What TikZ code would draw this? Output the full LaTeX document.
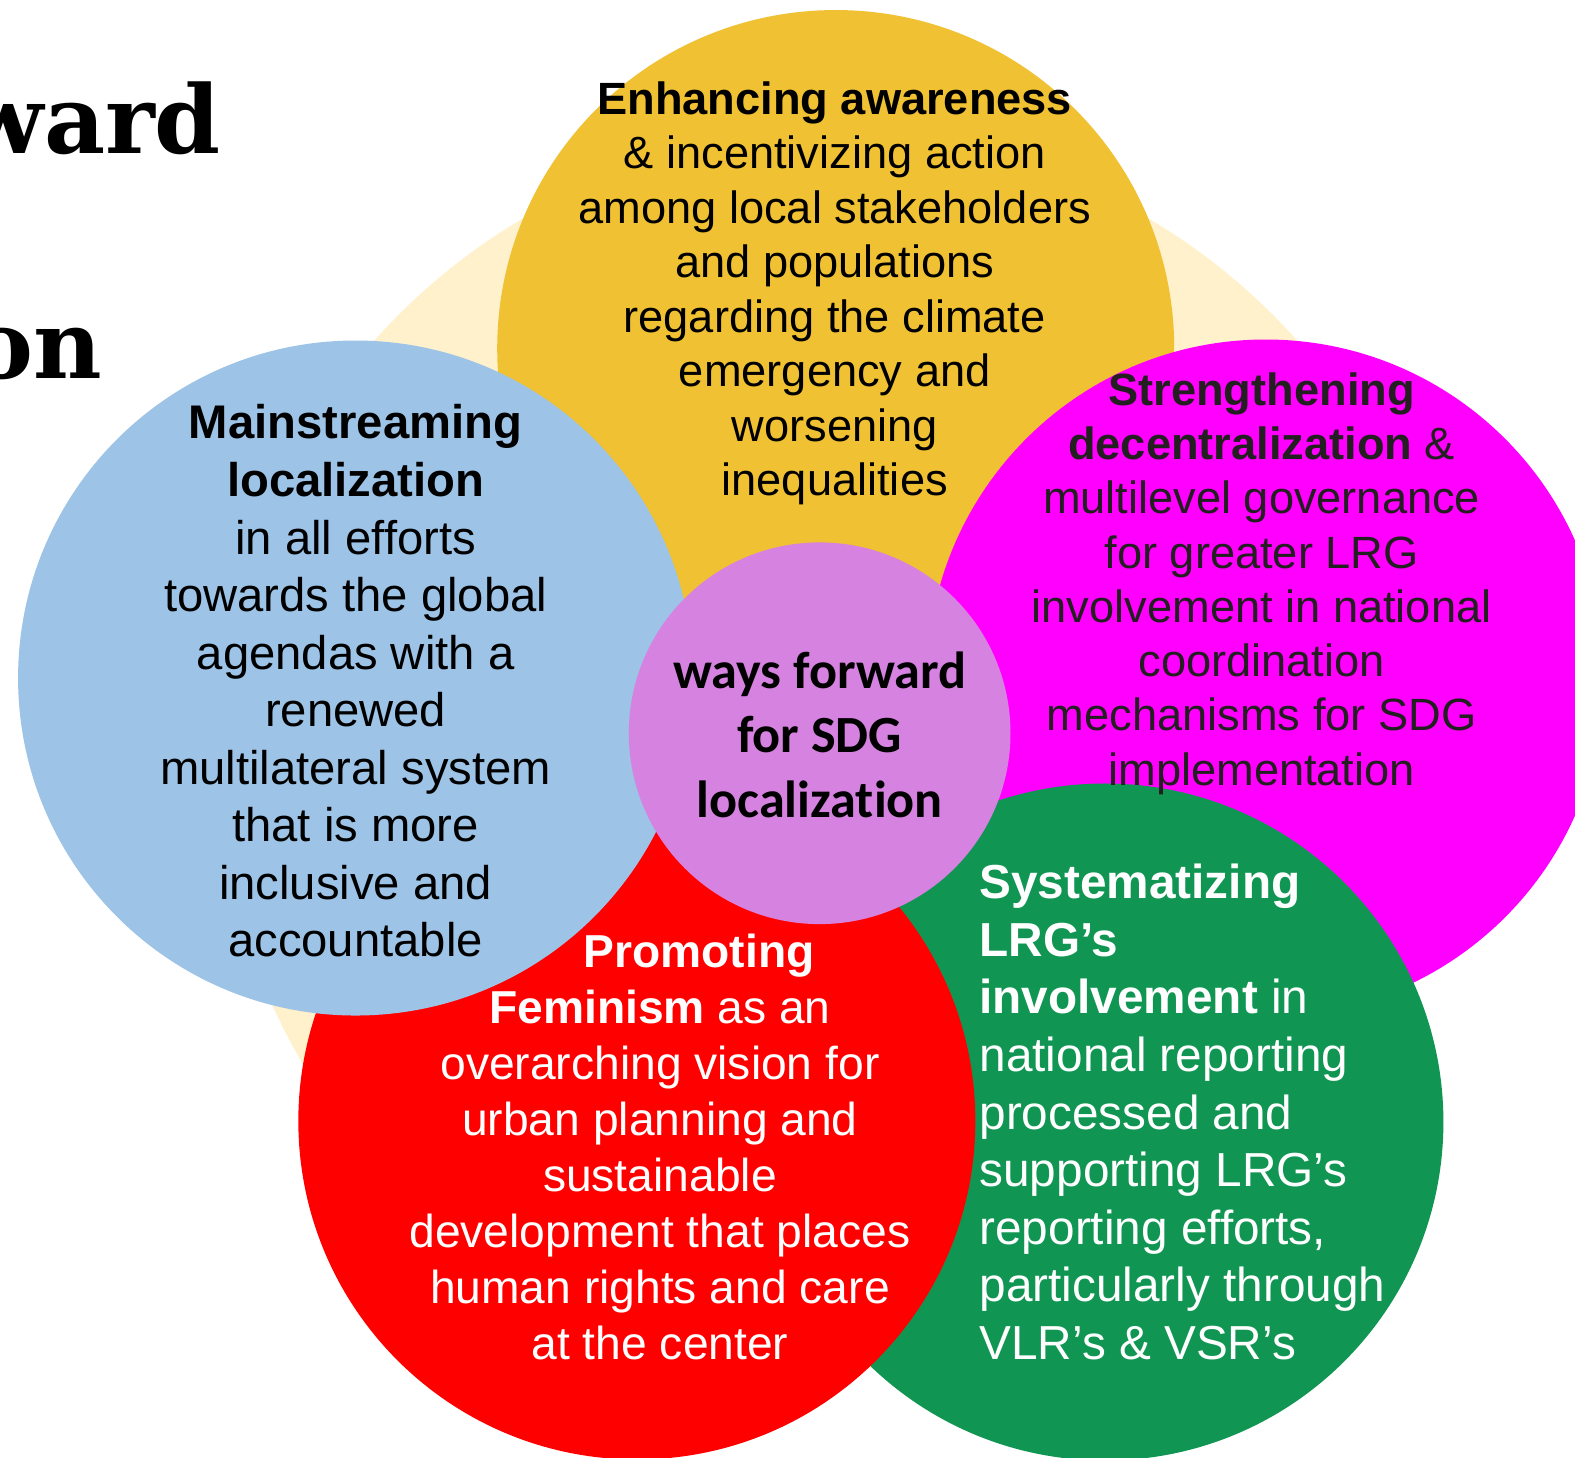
\documentclass[tikz,border=0pt]{standalone}
\usepackage{fontspec}
\setmainfont{Liberation Sans}
\newfontfamily\calfont{Carlito}[Ligatures={NoCommon}]
\newfontfamily\serifttl{DejaVu Serif}
\definecolor{peach}{HTML}{FFF1CC}
\definecolor{yelc}{HTML}{F0C132}
\definecolor{bluec}{HTML}{9DC3E6}
\definecolor{magc}{HTML}{FF00FF}
\definecolor{greenc}{HTML}{109652}
\definecolor{redc}{HTML}{FF0000}
\definecolor{purc}{HTML}{D682E0}
\definecolor{darktxt}{HTML}{231F20}
\tikzset{
  disc/.style={circle, minimum size=#1, inner sep=0pt, outer sep=0pt, draw=none},
  lbl/.style={align=center, inner sep=0pt, outer sep=0pt},
  ttl/.style={anchor=base east, inner sep=0pt, outer sep=0pt, font=\serifttl\bfseries\fontsize{94}{100}\selectfont},
}
\begin{document}
\begin{tikzpicture}[x=1pt,y=-1pt]
\useasboundingbox (0,0) rectangle (1568,1451);
\fill[white] (0,0) rectangle (1568,1451);
\begin{scope}
\clip (0,0) rectangle (1568,1451);
% title fragments
\node[ttl] (t1) at (220,153) {ward};
\node[ttl] (t2) at (102,377) {on};
% background disc
\node[disc=1230pt, fill=peach] (bg) at (832,748) {};
% petals
\node[disc=674pt, fill=yelc] (yel) at (832,347) {};
\node[disc=674pt, fill=magc] (mag) at (1260,675) {};
\node[disc=674pt, fill=greenc] (grn) at (1100,1117) {};
\node[disc=674pt, fill=redc] (red) at (634,1116) {};
\node[disc=672pt, fill=bluec] (blu) at (354,675) {};
\node[disc=380pt, fill=purc] (cen) at (816,730) {};
% texts
\node[lbl, font=\fontsize{45}{54.2}\selectfont] (tyel) at (831,292)
 {\textbf{Enhancing awareness}\\ \& incentivizing action\\ among local stakeholders\\ and populations\\ regarding the climate\\ emergency and\\ worsening\\ inequalities};
\node[lbl, font=\fontsize{47}{57.3}\selectfont] (tblu) at (354,678)
 {\textbf{Mainstreaming}\\ \textbf{localization}\\ in all efforts\\ towards the global\\ agendas with a\\ renewed\\ multilateral system\\ that is more\\ inclusive and\\ accountable};
\node[lbl, text=darktxt, font=\fontsize{45}{54}\selectfont] (tmag) at (1256,581)
 {\textbf{Strengthening}\\ \textbf{decentralization} \&\\ multilevel governance\\ for greater LRG\\ involvement in national\\ coordination\\ mechanisms for SDG\\ implementation};
\node[lbl, text=white, font=\fontsize{46}{55.8}\selectfont] (tred) at (657,1142)
 {\hspace*{78pt}\textbf{Promoting}\\ \textbf{Feminism} as an\\ overarching vision for\\ urban planning and\\ sustainable\\ development that places\\ human rights and care\\ at the center};
\node[align=left, anchor=west, inner sep=0pt, text=white, font=\fontsize{47.5}{57.4}\selectfont] (tgrn) at (975,1107)
 {\textbf{Systematizing}\\ \textbf{LRG’s}\\ \textbf{involvement} in\\ national reporting\\ processed and\\ supporting LRG’s\\ reporting efforts,\\ particularly through\\ VLR’s \& VSR’s};
\node[lbl, font=\calfont\bfseries\fontsize{52}{64}\selectfont] (tcen) at (816,731.5)
 {ways forward\\ for SDG\\ localization};
\end{scope}
\end{tikzpicture}
\end{document}
